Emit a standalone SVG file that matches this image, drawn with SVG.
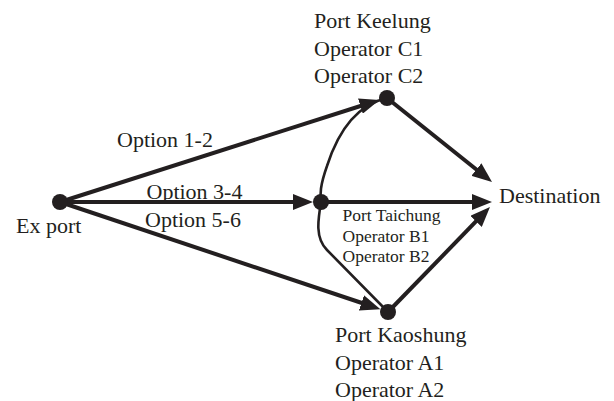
<svg xmlns="http://www.w3.org/2000/svg" width="614" height="401" viewBox="0 0 614 401">
  <style>
    text { font-family: "Liberation Serif", "Times New Roman", serif; fill: #231f20; }
    .big { font-size: 22px; }
    .small { font-size: 17.5px; }
    .edge { fill: none; stroke: #231f20; stroke-width: 4; }
    .link { fill: none; stroke: #231f20; stroke-width: 2.6; }
    .dot { fill: #231f20; }
  </style>
  <defs>
    <marker id="arrow" viewBox="0 0 20 16" refX="10" refY="8" markerWidth="20" markerHeight="16" markerUnits="userSpaceOnUse" orient="auto">
      <path d="M0,0 L20,8 L0,16 z" fill="#231f20"/>
    </marker>
  </defs>

  <g id="connectors">
    <!-- Ex port to the three ports -->
    <line class="edge" x1="60" y1="202" x2="369.9" y2="103" marker-end="url(#arrow)"/>
    <line class="edge" x1="60" y1="202" x2="303" y2="202" marker-end="url(#arrow)"/>
    <line class="edge" x1="60" y1="202" x2="370.9" y2="306" marker-end="url(#arrow)"/>
    <!-- ports to destination -->
    <line class="edge" x1="387" y1="98" x2="484.2" y2="175.8" marker-end="url(#arrow)"/>
    <line class="edge" x1="321" y1="202" x2="482" y2="202" marker-end="url(#arrow)"/>
    <line class="edge" x1="388" y1="312" x2="483" y2="214.2" marker-end="url(#arrow)"/>
    <!-- inland links between ports -->
    <path class="link" d="M387,98 C352,106 336,138 327,166 C320,186 320,194 321,202"/>
    <path class="link" d="M321,202 C318,220 315,238 327,250 L388,312"/>
  </g>

  <g id="ex-port">
    <circle class="dot" cx="60" cy="202" r="8"/>
    <text class="big" x="16" y="233">Ex port</text>
  </g>

  <g id="port-keelung">
    <circle class="dot" cx="387" cy="98" r="8"/>
    <text class="big" x="314" y="28">Port Keelung</text>
    <text class="big" x="314" y="56">Operator C1</text>
    <text class="big" x="314" y="83">Operator C2</text>
  </g>

  <g id="port-taichung">
    <circle class="dot" cx="321" cy="202" r="8"/>
    <text class="small" x="342.5" y="221">Port Taichung</text>
    <text class="small" x="342.5" y="242">Operator B1</text>
    <text class="small" x="342.5" y="262">Operator B2</text>
  </g>

  <g id="port-kaoshung">
    <circle class="dot" cx="388" cy="312" r="8"/>
    <text class="big" x="335" y="342">Port Kaoshung</text>
    <text class="big" x="335" y="370">Operator A1</text>
    <text class="big" x="335" y="397">Operator A2</text>
  </g>

  <g id="destination">
    <text class="big" x="499" y="203">Destination</text>
  </g>

  <g id="option-labels">
    <text class="big" x="117" y="147">Option 1-2</text>
    <text class="big" x="146.5" y="199">Option 3-4</text>
    <text class="big" x="145" y="227">Option 5-6</text>
  </g>
</svg>
